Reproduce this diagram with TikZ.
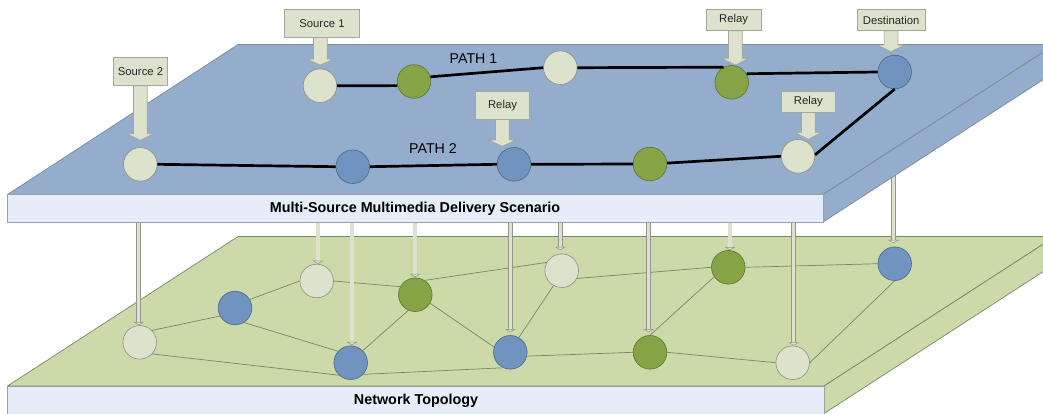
\documentclass[tikz,border=0pt]{standalone}
\usepackage{fontspec}
\setmainfont{Liberation Sans}
\usetikzlibrary{arrows.meta}
\definecolor{plateblue}{HTML}{94ADCC}
\definecolor{plategreen}{HTML}{CCDAA9}
\definecolor{frontface}{HTML}{E6EDF8}
\definecolor{plateedge}{HTML}{7D8A94}
\definecolor{greenedge}{HTML}{76876A}
\definecolor{cream}{HTML}{DDE2CD}
\definecolor{creamedge}{HTML}{A3A89A}
\definecolor{nodegreen}{HTML}{86A345}
\definecolor{nodeblue}{HTML}{7093BF}
\tikzset{
  netnode/.style={circle,inner sep=0pt,minimum size=33.6pt,line width=.6pt},
  palenode/.style={netnode,fill=cream,draw=creamedge!85!black},
  greennode/.style={netnode,fill=nodegreen,draw=nodegreen!70!black},
  bluenode/.style={netnode,fill=nodeblue,draw=nodeblue!70!black},
  pathline/.style={line width=2.7pt,black},
  meshline/.style={line width=.7pt,greenedge},
  dropline/.style={line width=.7pt,draw=creamedge!90!black,double=cream,double distance=3.5pt,
     -{Triangle[length=3.2pt,width=11pt,fill=cream,color=creamedge!90!black,line width=.5pt]}},
  calloutbox/.style={draw=creamedge,fill=cream,line width=.8pt,inner sep=0pt,text=black!85,font=\fontsize{11.3}{13}\selectfont},
  calloutarrow/.style={draw=creamedge,fill=cream,line width=.7pt,line join=miter},
  faceedge/.style={line width=.7pt,line join=round},
  facelabel/.style={font=\bfseries\fontsize{14.35}{17}\selectfont,inner sep=0pt},
  pathlabel/.style={font=\fontsize{14.2}{16}\selectfont,inner sep=0pt}
}
% name, left, top, right, bottom, tip x, head base y, tip y, text
\newcommand{\calloutlabel}[9]{%
  \draw[calloutarrow] ({#6-6.9},#5) -- ({#6-6.9},#7) -- ({#6-13.6},#7) -- (#6,#8)
     -- ({#6+13.6},#7) -- ({#6+6.9},#7) -- ({#6+6.9},#5) -- cycle;
  \node[calloutbox,minimum width={(#4-#2)*1pt},minimum height={(#5-#3)*1pt}] (#1) at ({(#2+#4)/2},{(#3+#5)/2}) {#9};
}
% name, x, top y, target node, gap
\newcommand{\dropconn}[5]{%
  \coordinate (#1) at (#2,#3);
  \draw[dropline,shorten >=#5pt] (#1) -- (#1 |- #4.north);
}
\begin{document}
\begin{tikzpicture}[x=1pt,y=-1pt]
\useasboundingbox (0,0) rectangle (1043,413);
\clip (0,0) rectangle (1043,413);

% lower plate
\draw[faceedge,draw=greenedge,fill=plategreen] (7.5,386) -- (238,236.5) -- (1055,236.5) -- (824,386) -- cycle;
\draw[faceedge,draw=greenedge,fill=plategreen] (824,386) -- (1055,236.5) -- (1055,264) -- (824,413.5) -- cycle;
\draw[faceedge,draw=plateedge!80,fill=frontface] (7.5,386) rectangle (824,420);
\node[facelabel] (toplabel) at (416,400.5) {Network Topology};

% network topology
\node[palenode]  (n1)  at (139.7,342.3) {};
\node[bluenode]  (n2)  at (235,308) {};
\node[palenode]  (n3)  at (316.7,281) {};
\node[greennode] (n4)  at (415.3,294.7) {};
\node[bluenode]  (n5)  at (350.7,362.7) {};
\node[bluenode]  (n6)  at (510.3,352.3) {};
\node[palenode]  (n7)  at (561.7,270.7) {};
\node[greennode] (n8)  at (650,352.3) {};
\node[greennode] (n9)  at (728.3,267.3) {};
\node[palenode]  (n10) at (792.7,362.7) {};
\node[bluenode]  (n11) at (894.7,263.7) {};
\draw[meshline] (n1.44) -- (n2.208);
\draw[meshline] (n2.30) -- (n3.180);
\draw[meshline] (n3.0) -- (n4.152);
\draw[meshline] (n2.302) -- (n5.138);
\draw[meshline] (n1.317) -- (n5.227);
\draw[meshline] (n5.317) -- (n6.245);
\draw[meshline] (n4.246) -- (n5.45);
\draw[meshline] (n4.330) -- (n6.162);
\draw[meshline] (n4.57) -- (n7.151);
\draw[meshline] (n6.60) -- (n7.241);
\draw[meshline] (n6.347) -- (n8.180);
\draw[meshline] (n7.333) -- (n9.180);
\draw[meshline] (n8.90) -- (n9.214);
\draw[meshline] (n8.0) -- (n10.180);
\draw[meshline] (n9.0) -- (n11.180);
\draw[meshline] (n10.0) -- (n11.270);

% links between layers
\dropconn{d1}{138.7}{220}{n1}{0}
\dropconn{d2}{318}{220}{n3}{0}
\dropconn{d3}{352}{220}{n5}{0.5}
\dropconn{d4}{415}{220}{n4}{0.5}
\dropconn{d5}{510.3}{220}{n6}{3}
\dropconn{d6}{560.3}{220}{n7}{3.5}
\dropconn{d7}{648.7}{220}{n8}{3}
\dropconn{d8}{730}{220}{n9}{0}
\dropconn{d9}{793.7}{220}{n10}{0}
\dropconn{d10}{893.5}{170}{n11}{3.5}

% upper plate
\draw[faceedge,draw=plateedge,fill=plateblue] (7.5,194.5) -- (238,44.5) -- (1055,44.5) -- (823,194.5) -- cycle;
\draw[faceedge,draw=plateedge,fill=plateblue] (823,194.5) -- (1055,44.5) -- (1055,72) -- (823,222) -- cycle;
\draw[faceedge,draw=plateedge!80,fill=frontface] (7.5,194.5) rectangle (823,222);
\node[facelabel] (scenlabel) at (415,209) {Multi-Source Multimedia Delivery Scenario};

% delivery paths
\node[palenode]  (a1) at (320,85.7) {};
\node[greennode] (a2) at (414,81.5) {};
\node[palenode]  (a3) at (560.3,67.7) {};
\node[greennode] (a4) at (731.7,82.3) {};
\node[bluenode]  (a5) at (894.7,72) {};
\node[palenode]  (b1) at (140.3,164.3) {};
\node[bluenode]  (b2) at (352.7,166.7) {};
\node[bluenode]  (b3) at (514,164.3) {};
\node[greennode] (b4) at (650,164) {};
\node[palenode]  (b5) at (798,156.3) {};
\draw[pathline] (a1.0) -- (a2.194);
\draw[pathline] (a2.16) -- (a3.180);
\draw[pathline] (a3.0) -- (a4.118);
\draw[pathline] (a4.30) -- (a5.180);
\draw[pathline] (b1.0) -- (b2.180);
\draw[pathline] (b2.0) -- (b3.180);
\draw[pathline] (b3.0) -- (b4.180);
\draw[pathline] (b4.3) -- (b5.180);
\draw[pathline] (b5.5) -- (a5.270);
\node[pathlabel] (p1) at (473.5,58.5) {PATH 1};
\node[pathlabel] (p2) at (433,149) {PATH 2};

% callouts
\calloutlabel{c1}{284.3}{9.3}{359.7}{37.3}{320.3}{59}{65}{Source 1}
\calloutlabel{c2}{113.3}{57.3}{167.7}{85.7}{140.3}{133.7}{140.3}{Source 2}
\calloutlabel{c3}{475.7}{91.7}{529.3}{119.3}{502.3}{140}{146.3}{Relay}
\calloutlabel{c4}{706.3}{9.3}{761}{30.7}{735.3}{58.3}{65}{Relay}
\calloutlabel{c5}{857}{9.3}{925.3}{30.7}{891}{45}{51.7}{Destination}
\calloutlabel{c6}{781.3}{91.7}{835.3}{112.3}{808.3}{132.3}{139.3}{Relay}
\end{tikzpicture}
\end{document}
